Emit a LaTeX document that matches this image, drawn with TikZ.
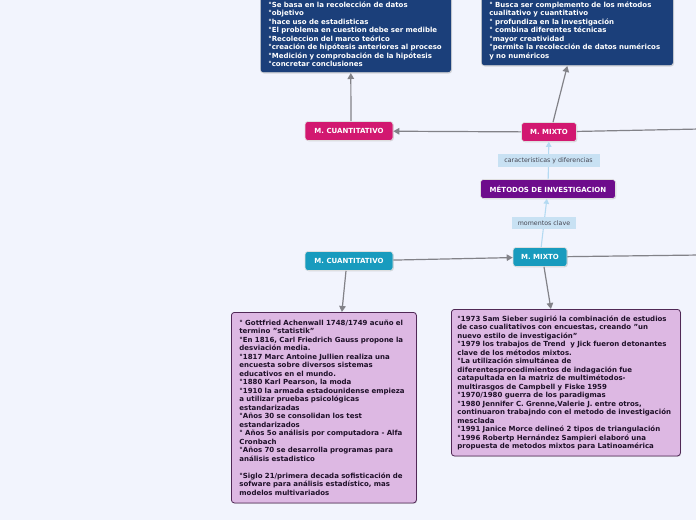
\documentclass[tikz,border=0pt]{standalone}
\usepackage{fontspec}
\setmainfont{DejaVu Sans}
\usepackage{tikz}
\usetikzlibrary{arrows.meta, positioning, calc, shadows}
\definecolor{mapbg}{RGB}{242,244,253}
\definecolor{mypink}{RGB}{210,24,112}
\definecolor{myteal}{RGB}{24,155,190}
\definecolor{mypurple}{RGB}{110,12,140}
\definecolor{mynavy}{RGB}{27,63,122}
\definecolor{mylilac}{RGB}{221,184,227}
\definecolor{lilacframe}{RGB}{80,40,86}
\definecolor{linkblue}{RGB}{200,225,243}
\definecolor{linkline}{RGB}{180,218,242}
\definecolor{mygray}{RGB}{130,130,136}
\definecolor{labeltext}{RGB}{70,70,82}
\definecolor{boxtext}{RGB}{30,16,40}
\newcommand{\notefont}{\fontsize{7}{8.5}\selectfont\bfseries\hyphenpenalty=10000\relax}
\tikzset{
  topic/.style={rectangle, rounded corners=3pt, draw=white!75!gray,
    line width=0.6pt, text=white, inner sep=0pt, minimum height=19pt,
    font=\fontsize{7}{8}\selectfont\bfseries,
    drop shadow={opacity=0.25, shadow xshift=0.8pt, shadow yshift=-0.8pt}},
  pinktopic/.style={topic, fill=mypink},
  tealtopic/.style={topic, fill=myteal},
  roottopic/.style={topic, fill=mypurple},
  navybox/.style={rectangle, rounded corners=3pt, fill=mynavy,
    draw=white!70!gray, line width=0.6pt, text=white, align=left,
    inner xsep=8pt, inner ysep=6pt, font=\notefont,
    drop shadow={opacity=0.25, shadow xshift=0.8pt, shadow yshift=-0.8pt}},
  lilacbox/.style={rectangle, rounded corners=3pt, fill=mylilac,
    draw=lilacframe, line width=0.8pt, text=boxtext, align=left,
    inner xsep=8pt, inner ysep=7.5pt, font=\notefont,
    drop shadow={opacity=0.25, shadow xshift=0.8pt, shadow yshift=-0.8pt}},
  linklabel/.style={rectangle, fill=linkblue, text=labeltext,
    inner sep=0pt, minimum height=12.5pt,
    font=\fontsize{6.3}{8}\selectfont},
  arrow/.style={-{Triangle[length=6pt, width=6.5pt]}, line width=1.2pt, color=mygray},
  line/.style={line width=1.2pt, color=mygray},
  linkarrow/.style={-{Triangle[length=5pt, width=5.5pt]}, line width=1.1pt, color=linkline}
}

\begin{document}
\begin{tikzpicture}[x=1pt, y=-1pt]
  \useasboundingbox (0,0) rectangle (696,520);
  \fill[mapbg] (0,0) rectangle (696,520);

  % central topics
  \node[roottopic, minimum width=135pt] (metodos) at (548,189) {MÉTODOS DE INVESTIGACION};
  \node[pinktopic, minimum width=88pt] (cuantA) at (349,131) {M. CUANTITATIVO};
  \node[pinktopic, minimum width=55pt] (mixtoA) at (549,132) {M. MIXTO};
  \node[tealtopic, minimum width=88pt] (cuantB) at (349,261) {M. CUANTITATIVO};
  \node[tealtopic, minimum width=54pt] (mixtoB) at (540,257) {M. MIXTO};

  % notes
  \node[navybox, anchor=south west, text width=175pt] (noteA) at (260,73)
    {°Se basa en la recolección de datos\\
     °objetivo\\
     °hace uso de estadisticas\\
     °El problema en cuestion debe ser medible\\
     °Recoleccion del marco teórico\\
     °creación de hipótesis anteriores al proceso\\
     °Medición y comprobación de la hipótesis\\
     °concretar conclusiones};
  \node[navybox, anchor=south west, text width=176pt] (noteB) at (481,66)
    {° Busca ser complemento de los métodos\\
     cualitativo y cuantitativo\\
     ° profundiza en la investigación\\
     ° combina diferentes técnicas\\
     °mayor creatividad\\
     °permite la recolección de datos numéricos\\
     y no numéricos};
  \node[lilacbox, anchor=north west, text width=169pt] (histL) at (231,312)
    {° Gottfried Achenwall 1748/1749 acuño el\\
     termino "statistik"\\
     °En 1816, Carl Friedrich Gauss propone la\\
     desviación media.\\
     °1817 Marc Antoine Jullien realiza una\\
     encuesta sobre diversos sistemas\\
     educativos en el mundo.\\
     °1880 Karl Pearson, la moda\\
     °1910 la armada estadounidense empieza\\
     a utilizar pruebas psicológicas\\
     estandarizadas\\
     °Años 30 se consolidan los test\\
     estandarizados\\
     ° Años 5o análisis por computadora - Alfa\\
     Cronbach\\
     °Años 70 se desarrolla programas para\\
     análisis estadistico\\[8.5pt]
     °Siglo 21/primera decada sofisticación de\\
     sofware para análisis estadístico, mas\\
     modelos multivariados};
  \node[lilacbox, anchor=north west, text width=217pt, inner xsep=6pt, inner ysep=6pt] (histR) at (451,309)
    {°1973 Sam Sieber sugirió la combinación de estudios\\
     de caso cualitativos con encuestas, creando "un\\
     nuevo estilo de investigación"\\
     °1979 los trabajos de Trend \ y Jick fueron detonantes\\
     clave de los métodos mixtos.\\
     °La utilización simultánea de\\
     diferentesprocedimientos de indagación fue\\
     catapultada en la matriz de multimétodos-\\
     multirasgos de Campbell y Fiske 1959\\
     °1970/1980 guerra de los paradigmas\\
     °1980 Jennifer C. Grenne,Valerie J. entre otros,\\
     continuaron trabajndo con el metodo de investigación\\
     mesclada\\
     °1991 Janice Morce delineó 2 tipos de triangulación\\
     °1996 Robertp Hernández Sampieri elaboró una\\
     propuesta de metodos mixtos para Latinoamérica};

  % links leaving the frame
  \coordinate (offA) at (700,129);
  \coordinate (offB) at (700,255);

  \draw[linkarrow] (metodos) -- node[linklabel, minimum width=102pt]{caracteristicas y diferencias} (mixtoA);
  \draw[linkarrow] (mixtoB) -- node[linklabel, minimum width=64pt]{momentos clave} (metodos);

  \draw[arrow] (mixtoA) -- (cuantA);
  \draw[line]  (mixtoA) -- (offA);
  \draw[arrow] ([xshift=2pt]cuantA.north) -- ([xshift=-5pt]noteA.south);
  \draw[arrow] ([xshift=4pt]mixtoA.north) -- ([xshift=-10pt]noteB.south);
  \draw[arrow] (cuantB) -- (mixtoB);
  \draw[line]  (mixtoB) -- (offB);
  \draw[arrow] ([xshift=-3pt]cuantB.south) -- ([xshift=18pt]histL.north);
  \draw[arrow] ([xshift=4pt]mixtoB.south) -- ([xshift=-15pt]histR.north);
\end{tikzpicture}
\end{document}
